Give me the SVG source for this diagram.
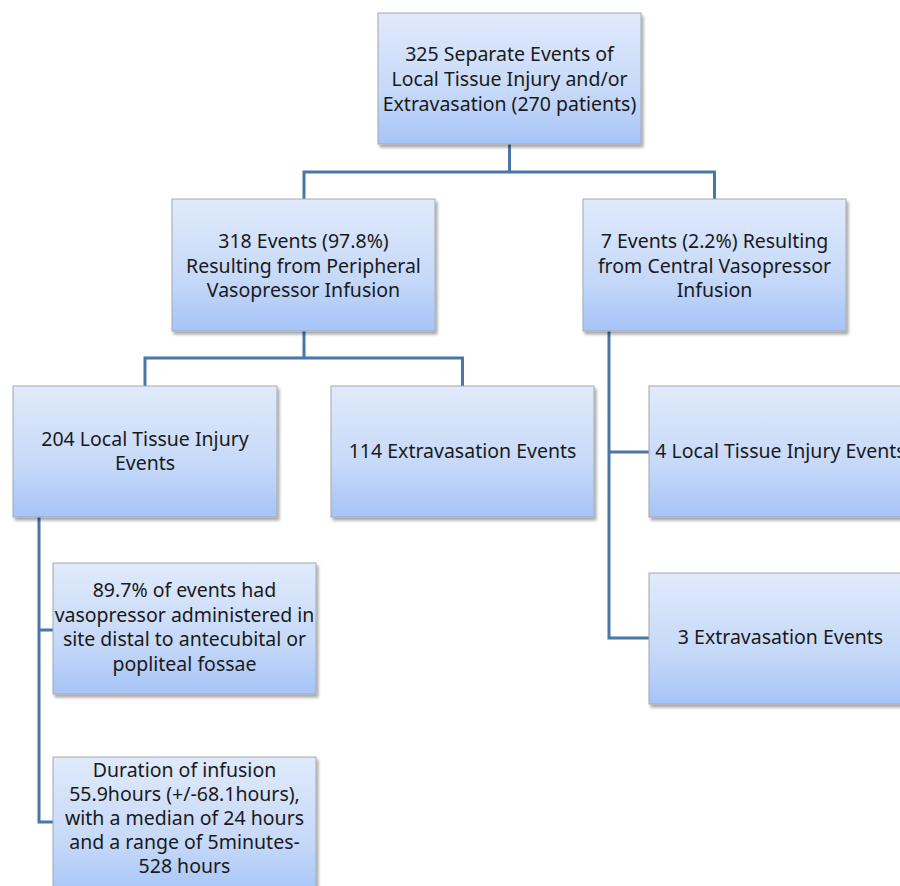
<svg xmlns="http://www.w3.org/2000/svg" width="900" height="886" viewBox="0 0 900 886">
<defs>
<linearGradient id="g" x1="0" y1="0" x2="0" y2="1">
<stop offset="0" stop-color="#e0eafb"/>
<stop offset="0.6" stop-color="#c6d9f9"/>
<stop offset="1" stop-color="#a6c4f7"/>
</linearGradient>
<filter id="sh" x="-5%" y="-5%" width="115%" height="120%">
<feGaussianBlur in="SourceAlpha" stdDeviation="1.5"/>
<feOffset dx="2" dy="3" result="b"/>
<feComponentTransfer><feFuncA type="linear" slope="0.35"/></feComponentTransfer>
<feMerge><feMergeNode/><feMergeNode in="SourceGraphic"/></feMerge>
</filter>
</defs>
<style>
.box{fill:url(#g);stroke:#a3a8b0;stroke-width:1;filter:url(#sh)}
.t{font-family:"Noto Sans","Open Sans","DejaVu Sans",sans-serif;font-size:19.5px;fill:#1a1a1a;text-anchor:middle}
.c{fill:none;stroke:#4a76a8;stroke-width:3}
</style>
<rect width="900" height="886" fill="#ffffff"/>
<g id="connectors">
<path class="c" d="M509.5 144 V172 M304 172 H714.5 M304 170.5 V199 M714.5 170.5 V199"/>
<path class="c" d="M304 331 V358 M145 358 H462.5 M145 356.5 V386 M462.5 356.5 V386"/>
<path class="c" d="M609 331 V639.5 M607.5 452 H649 M607.5 638 H649"/>
<path class="c" d="M39 517 V823.5 M37.5 630 H53 M37.5 822 H53"/>
</g>
<g id="n-root">
<rect class="box" x="378" y="13" width="263" height="131"/>
<text class="t" x="509.5" y="61">325 Separate Events of</text>
<text class="t" x="509.5" y="86">Local Tissue Injury and/or</text>
<text class="t" x="509.5" y="111">Extravasation (270 patients)</text>
</g>
<g id="n-peripheral">
<rect class="box" x="172" y="199" width="263" height="132"/>
<text class="t" x="303.5" y="248">318 Events (97.8%)</text>
<text class="t" x="303.5" y="272.5">Resulting from Peripheral</text>
<text class="t" x="303.5" y="297">Vasopressor Infusion</text>
</g>
<g id="n-central">
<rect class="box" x="583" y="199" width="263" height="132"/>
<text class="t" x="714.5" y="248">7 Events (2.2%) Resulting</text>
<text class="t" x="714.5" y="272.5">from Central Vasopressor</text>
<text class="t" x="714.5" y="297">Infusion</text>
</g>
<g id="n-local204">
<rect class="box" x="13" y="386" width="264" height="131"/>
<text class="t" x="145" y="446">204 Local Tissue Injury</text>
<text class="t" x="145" y="470">Events</text>
</g>
<g id="n-extra114">
<rect class="box" x="331" y="386" width="263" height="131"/>
<text class="t" x="462.5" y="458">114 Extravasation Events</text>
</g>
<g id="n-local4">
<rect class="box" x="649" y="386" width="263" height="131"/>
<text class="t" x="780.5" y="458">4 Local Tissue Injury Events</text>
</g>
<g id="n-extra3">
<rect class="box" x="649" y="573" width="263" height="131"/>
<text class="t" x="780.5" y="644">3 Extravasation Events</text>
</g>
<g id="n-distal">
<rect class="box" x="53" y="563" width="263" height="131"/>
<text class="t" x="184.5" y="597">89.7% of events had</text>
<text class="t" x="184.5" y="621.5">vasopressor administered in</text>
<text class="t" x="184.5" y="646">site distal to antecubital or</text>
<text class="t" x="184.5" y="670.5">popliteal fossae</text>
</g>
<g id="n-duration">
<rect class="box" x="53" y="757" width="263" height="140"/>
<text class="t" x="184.5" y="777">Duration of infusion</text>
<text class="t" x="184.5" y="801">55.9hours (+/-68.1hours),</text>
<text class="t" x="184.5" y="825">with a median of 24 hours</text>
<text class="t" x="184.5" y="849">and a range of 5minutes-</text>
<text class="t" x="184.5" y="873">528 hours</text>
</g>
</svg>
